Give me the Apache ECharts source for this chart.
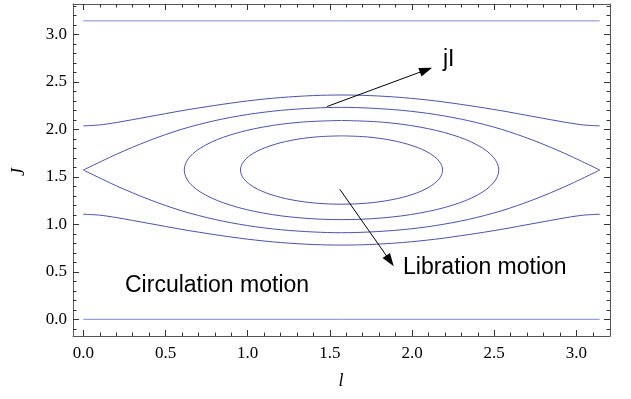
<!DOCTYPE html>
<html>
<head>
<meta charset="utf-8">
<script src="https://cdn.jsdelivr.net/npm/echarts@6/dist/echarts.min.js"></script>
<style>
html,body{margin:0;padding:0;background:#fff;}
#chart{width:631px;height:399px;}
</style>
</head>
<body>
<div id="chart"></div>
<script>
// ---- data (l, J) ----
const lineJ0 = [[0, 0], [3.1416, 0]];
const lineJpi = [[0, 3.1416], [3.1416, 3.1416]];

const circulationUpper = [[0,2.036],[0.1,2.046],[0.2,2.071],[0.4,2.133],[0.6,2.196],[0.8,2.251],[1.0,2.299],[1.2,2.334],[1.4,2.355],[1.571,2.361],[1.742,2.355],[1.942,2.334],[2.142,2.299],[2.342,2.251],[2.542,2.196],[2.742,2.133],[2.942,2.071],[3.042,2.046],[3.142,2.036]];
const circulationLower = [[0,1.106],[0.1,1.096],[0.2,1.071],[0.4,1.009],[0.6,0.946],[0.8,0.891],[1.0,0.843],[1.2,0.808],[1.4,0.787],[1.571,0.781],[1.742,0.787],[1.942,0.808],[2.142,0.843],[2.342,0.891],[2.542,0.946],[2.742,1.009],[2.942,1.071],[3.042,1.096],[3.142,1.106]];

const separatrixUpper = [[0,1.571],[0.2,1.736],[0.4,1.881],[0.6,2.001],[0.8,2.091],[1.0,2.156],[1.2,2.199],[1.4,2.223],[1.571,2.231],[1.742,2.223],[1.942,2.199],[2.142,2.156],[2.342,2.091],[2.542,2.001],[2.742,1.881],[2.942,1.736],[3.142,1.571]];
const separatrixLower = [[0,1.571],[0.2,1.406],[0.4,1.261],[0.6,1.141],[0.8,1.051],[1.0,0.986],[1.2,0.943],[1.4,0.919],[1.571,0.911],[1.742,0.919],[1.942,0.943],[2.142,0.986],[2.342,1.051],[2.542,1.141],[2.742,1.261],[2.942,1.406],[3.142,1.571]];

const librationOuter = [[1.571,2.093],[1.819,2.075],[2.049,2.023],[2.248,1.940],[2.400,1.832],[2.495,1.706],[2.528,1.571],[2.495,1.436],[2.400,1.310],[2.248,1.202],[2.049,1.119],[1.819,1.067],[1.571,1.049],[1.323,1.067],[1.092,1.119],[0.894,1.202],[0.742,1.310],[0.646,1.436],[0.614,1.571],[0.646,1.706],[0.742,1.832],[0.894,1.940],[1.092,2.023],[1.323,2.075],[1.571,2.093]];
const librationInner = [[1.571,1.931],[1.730,1.919],[1.878,1.883],[2.006,1.825],[2.103,1.751],[2.165,1.664],[2.186,1.571],[2.165,1.478],[2.103,1.391],[2.006,1.316],[1.878,1.259],[1.730,1.223],[1.571,1.211],[1.412,1.223],[1.263,1.259],[1.136,1.316],[1.038,1.391],[0.977,1.478],[0.956,1.571],[0.977,1.664],[1.038,1.751],[1.136,1.825],[1.263,1.883],[1.412,1.919],[1.571,1.931]];

// ---- ticks ----
const xMajorTicks = [0, 0.5, 1.0, 1.5, 2.0, 2.5, 3.0];
const xMinorTicks = [0.1,0.2,0.3,0.4,0.6,0.7,0.8,0.9,1.1,1.2,1.3,1.4,1.6,1.7,1.8,1.9,2.1,2.2,2.3,2.4,2.6,2.7,2.8,2.9,3.1];
const yMajorTicks = [0, 0.5, 1.0, 1.5, 2.0, 2.5, 3.0];
const yMinorTicks = [-0.1,0.1,0.2,0.3,0.4,0.6,0.7,0.8,0.9,1.1,1.2,1.3,1.4,1.6,1.7,1.8,1.9,2.1,2.2,2.3,2.4,2.6,2.7,2.8,2.9,3.1,3.2,3.3];

// ---- annotations ----
const texts = ['jI', 'Libration motion', 'Circulation motion'];
const arrowUp = [[1.482, 2.239], [2.085, 2.625]];
const arrowDown = [[1.56, 1.37], [1.866, 0.615]];

const X_MIN = -0.0628, X_MAX = 3.2044, Y_MIN = -0.176, Y_MAX = 3.319;
const curveColor = '#4a52b0';
const frameColor = '#555';

function xAx(pos, ticks, len, showLine, showLabel) {
  return {
    type: 'value', position: pos, min: X_MIN, max: X_MAX,
    axisLine: {show: showLine, onZero: false, lineStyle: {color: frameColor, width: 1}},
    axisTick: {show: true, inside: true, length: len, customValues: ticks, lineStyle: {color: '#333', width: 1}},
    axisLabel: showLabel ? {show: true, customValues: ticks, margin: 9, formatter: v => v.toFixed(1),
      fontFamily: '"Liberation Serif"', fontSize: 17, color: '#000'} : {show: false},
    splitLine: {show: false}
  };
}
function yAx(pos, ticks, len, showLine, showLabel) {
  return {
    type: 'value', position: pos, min: Y_MIN, max: Y_MAX,
    axisLine: {show: showLine, onZero: false, lineStyle: {color: frameColor, width: 1}},
    axisTick: {show: true, inside: true, length: len, customValues: ticks, lineStyle: {color: '#333', width: 1}},
    axisLabel: showLabel ? {show: true, customValues: ticks, margin: 6, formatter: v => v.toFixed(1),
      fontFamily: '"Liberation Serif"', fontSize: 17, color: '#000'} : {show: false},
    splitLine: {show: false}
  };
}

function curve(data, color, smooth) {
  return {type: 'line', data: data, xAxisIndex: 0, yAxisIndex: 0, showSymbol: false, symbol: 'none',
    smooth: smooth, lineStyle: {color: color, width: 1}, silent: true, clip: true};
}

const arrowSeries = {
  type: 'line', data: [], xAxisIndex: 0, yAxisIndex: 0, silent: true,
  markLine: {
    silent: true, symbol: ['none', 'triangle'], symbolSize: [9, 13],
    label: {show: false},
    itemStyle: {color: '#000'},
    lineStyle: {color: '#000', width: 1, type: 'solid'},
    emphasis: {disabled: true},
    data: [
      [{coord: arrowUp[0]}, {coord: arrowUp[1]}],
      [{coord: arrowDown[0]}, {coord: arrowDown[1]}]
    ]
  }
};

const chart = echarts.init(document.getElementById('chart'), null, {renderer: 'canvas'});
chart.setOption({
  animation: false,
  backgroundColor: '#fff',
  grid: {left: 73, right: 21, top: 4, bottom: 63, containLabel: false},
  xAxis: [
    xAx('bottom', xMajorTicks, 6, true, true),
    xAx('bottom', xMinorTicks, 3.5, false, false),
    xAx('top', xMajorTicks, 6, true, false),
    xAx('top', xMinorTicks, 3.5, false, false)
  ],
  yAxis: [
    yAx('left', yMajorTicks, 6, true, true),
    yAx('left', yMinorTicks, 3.5, false, false),
    yAx('right', yMajorTicks, 6, true, false),
    yAx('right', yMinorTicks, 3.5, false, false)
  ],
  series: [
    curve(lineJ0, '#8088cc', false),
    curve(lineJpi, '#8088cc', false),
    curve(circulationUpper, curveColor, 0.3),
    curve(circulationLower, curveColor, 0.3),
    curve(separatrixUpper, curveColor, 0.3),
    curve(separatrixLower, curveColor, 0.3),
    curve(librationOuter, curveColor, 0.35),
    curve(librationInner, curveColor, 0.35),
    arrowSeries
  ],
  graphic: [
    {type: 'text', x: 443, y: 60, style: {text: texts[0], font: '23px "Liberation Sans"', fill: '#000', verticalAlign: 'middle'}},
    {type: 'text', x: 403, y: 268, style: {text: texts[1], font: '23px "Liberation Sans"', fill: '#000', verticalAlign: 'middle'}},
    {type: 'text', x: 125, y: 286, style: {text: texts[2], font: '23px "Liberation Sans"', fill: '#000', verticalAlign: 'middle'}},
    {type: 'text', x: 19, y: 172, rotation: Math.PI / 2, style: {text: 'J', font: 'italic 18px "Liberation Serif"', fill: '#000', align: 'center', verticalAlign: 'middle'}},
    {type: 'text', x: 341, y: 381, style: {text: 'l', font: 'italic 18px "Liberation Serif"', fill: '#000', align: 'center', verticalAlign: 'middle'}}
  ]
});
</script>
</body>
</html>
